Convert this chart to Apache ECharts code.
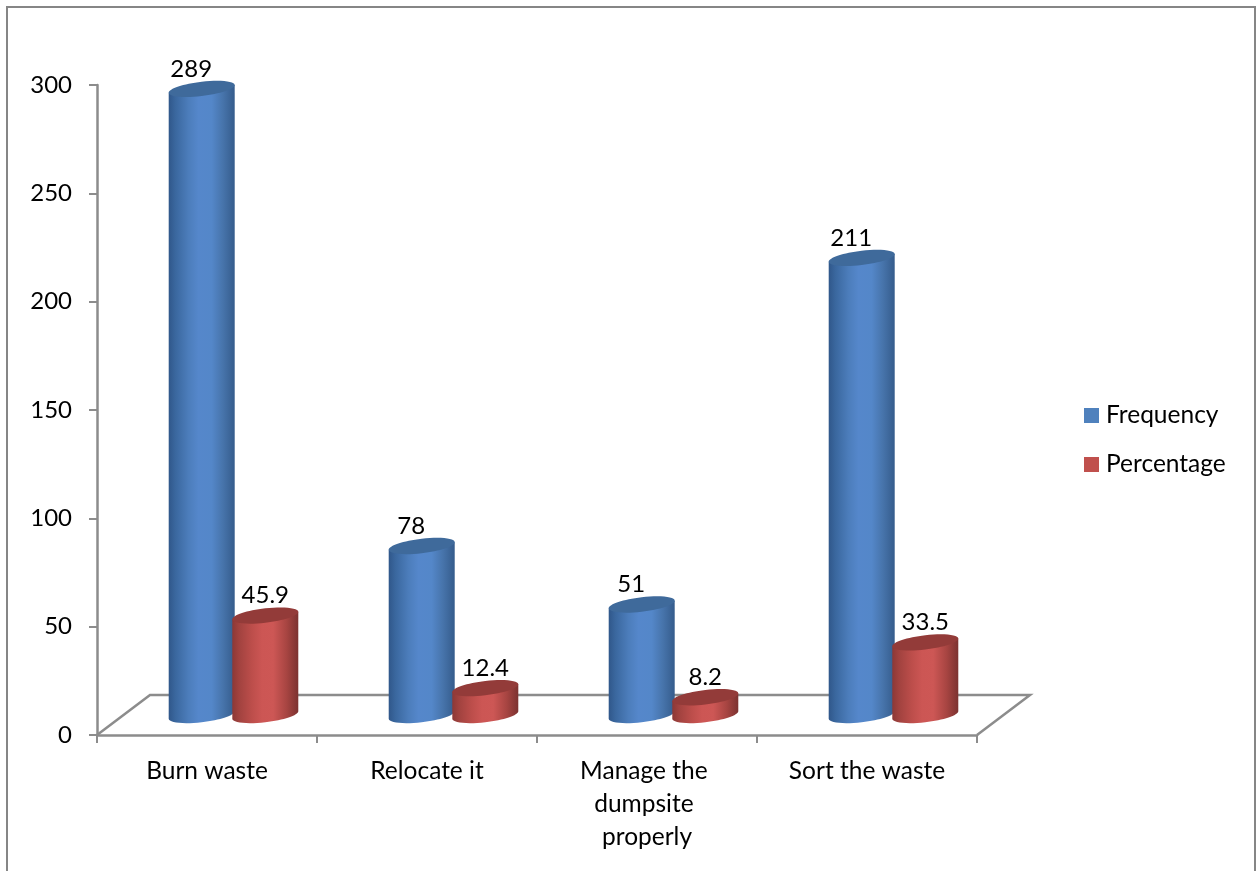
<!DOCTYPE html>
<html>
<head>
<meta charset="utf-8">
<style>html,body{margin:0;padding:0;background:#fff;overflow:hidden}#chart{width:1259px;height:871px}</style>
<script src="https://cdn.jsdelivr.net/npm/echarts@6/dist/echarts.min.js"></script>
</head>
<body>
<div id="chart"></div>
<script>
const categories = ['Burn waste', 'Relocate it', 'Manage the dumpsite properly', 'Sort the waste'];
const frequency = [289, 78, 51, 211];
const percentage = [45.9, 12.4, 8.2, 33.5];
const yMax = 300;
const yStep = 50;

const FONT = 'Lato';
const NUM_SIZE = 24;
const TEXT_SIZE = 24.5;
const AXIS_COLOR = '#8c8c8c';
const FRAME_COLOR = '#868686';
// Oblique projection of the floor: how far the back edge sits from the front edge.
const DEPTH_X = 53;
const DEPTH_Y = 40;
// Sheared ellipse of a cylinder end: half width, half height, and rise across the width.
const RX = 33;
const RY = 7.2;
const TILT = 3.8;
const K = 0.5523;

function gradient(stops) {
  return {
    type: 'linear', x: 0, y: 0, x2: 1, y2: 0,
    colorStops: stops.map(([offset, color]) => ({ offset, color }))
  };
}

const blueBody = gradient([[0, '#30578a'], [0.1, '#3a679e'], [0.3, '#4c7dbb'], [0.45, '#5587cb'], [0.65, '#5487c9'], [0.82, '#4774ab'], [1, '#355c8c']]);
const redBody = gradient([[0, '#8c3836'], [0.1, '#a1423f'], [0.3, '#bd4e4b'], [0.45, '#cc5654'], [0.62, '#cd5755'], [0.82, '#a84542'], [1, '#7c3230']]);

const fmt = (x, y) => `${x} ${y}`;

// Upper half of the end ellipse, left to right, as path commands.
function upperArc(c, y) {
  return `C ${fmt(c - RX, y + TILT - K * RY)} ${fmt(c - K * RX, y - RY + K * TILT)} ${fmt(c, y - RY)} ` +
         `C ${fmt(c + K * RX, y - RY - K * TILT)} ${fmt(c + RX, y - TILT - K * RY)} ${fmt(c + RX, y - TILT)} `;
}
// Lower half of the end ellipse, left to right.
function lowerArcLR(c, y) {
  return `C ${fmt(c - RX, y + TILT + K * RY)} ${fmt(c - K * RX, y + RY + K * TILT)} ${fmt(c, y + RY)} ` +
         `C ${fmt(c + K * RX, y + RY - K * TILT)} ${fmt(c + RX, y - TILT + K * RY)} ${fmt(c + RX, y - TILT)} `;
}
// Lower half of the end ellipse, right to left.
function lowerArcRL(c, y) {
  return `C ${fmt(c + RX, y - TILT + K * RY)} ${fmt(c + K * RX, y + RY - K * TILT)} ${fmt(c, y + RY)} ` +
         `C ${fmt(c - K * RX, y + RY + K * TILT)} ${fmt(c - RX, y + TILT + K * RY)} ${fmt(c - RX, y + TILT)} `;
}

// Cylinder sitting halfway back on the floor, with its top ellipse and value above it.
function cylinder(shift, body, cap, labelShift) {
  return function (params, api) {
    const i = api.value(0);
    const v = api.value(1);
    const step = api.size([1, 0])[0];
    const cx = api.coord([i, 0])[0] + DEPTH_X / 2 + shift * step;
    const yBase = api.coord([i, 0])[1] - DEPTH_Y / 2;
    const yTop = api.coord([i, v])[1] - DEPTH_Y / 2;
    const l = cx - RX;
    const bodyPath =
      `M ${fmt(l, yTop + TILT)} L ${fmt(l, yBase + TILT)} ` +
      lowerArcLR(cx, yBase) +
      `L ${fmt(cx + RX, yTop - TILT)} L ${fmt(l, yTop + TILT)} Z`;
    const capPath =
      `M ${fmt(l, yTop + TILT)} ` + upperArc(cx, yTop) + lowerArcRL(cx, yTop) + 'Z';
    return {
      type: 'group',
      children: [
        { type: 'path', shape: { pathData: bodyPath }, style: { fill: body } },
        { type: 'path', shape: { pathData: capPath }, style: { fill: cap } },
        {
          type: 'text', z2: 5,
          style: {
            text: String(v), x: cx + labelShift, y: yTop - 20,
            align: 'center', verticalAlign: 'middle',
            font: `${NUM_SIZE}px ${FONT}`, fill: '#000'
          }
        }
      ]
    };
  };
}

// Floor parallelogram: the front edge follows the axis, the back edge is offset.
function floor(params, api) {
  const step = api.size([1, 0])[0];
  const [x0, y0] = api.coord([0, 0]);
  const left = x0 - step / 2;
  const right = left + step * categories.length;
  return {
    type: 'polyline',
    shape: {
      points: [
        [left, y0],
        [left + DEPTH_X, y0 - DEPTH_Y],
        [right + DEPTH_X, y0 - DEPTH_Y],
        [right, y0]
      ]
    },
    style: { stroke: AXIS_COLOR, lineWidth: 2.5, fill: 'none' }
  };
}

const chart = echarts.init(document.getElementById('chart'), null, { renderer: 'canvas' });
chart.setOption({
  backgroundColor: '#fff',
  animation: false,
  graphic: [{
    type: 'rect', silent: true, z: -1,
    shape: { x: 7, y: 7, width: 1248, height: 900 },
    style: { fill: 'none', stroke: FRAME_COLOR, lineWidth: 2 }
  }],
  grid: { left: 97, right: 282, top: 85, bottom: 136 },
  xAxis: {
    type: 'category',
    data: categories,
    boundaryGap: true,
    axisLine: { lineStyle: { color: AXIS_COLOR, width: 2.5 } },
    axisTick: { show: true, alignWithLabel: false, length: 8, lineStyle: { color: AXIS_COLOR, width: 2 } },
    axisLabel: {
      color: '#000', fontFamily: FONT, fontSize: TEXT_SIZE, margin: 20, lineHeight: 33,
      interval: 0, width: 170, overflow: 'break'
    }
  },
  yAxis: {
    type: 'value',
    min: 0,
    max: yMax,
    interval: yStep,
    splitLine: { show: false },
    axisLine: { show: true, lineStyle: { color: AXIS_COLOR, width: 2.5 } },
    axisTick: { show: true, length: 8, lineStyle: { color: AXIS_COLOR, width: 2 } },
    axisLabel: { color: '#000', fontFamily: FONT, fontSize: NUM_SIZE, margin: 25, padding: [2, 0, 0, 0] }
  },
  legend: {
    orient: 'vertical',
    left: 1079,
    top: 398,
    icon: 'rect',
    itemWidth: 15,
    itemHeight: 15,
    itemGap: 24,
    data: ['Frequency', 'Percentage'],
    textStyle: { color: '#000', fontFamily: FONT, fontSize: TEXT_SIZE, padding: [0, 0, 0, 2] }
  },
  series: [
    {
      name: 'floor', type: 'custom', silent: true, renderItem: floor,
      data: [[0, 0]], encode: { x: 0, y: 1 }
    },
    {
      name: 'Frequency', type: 'custom', itemStyle: { color: '#4f81bd' },
      renderItem: cylinder(-0.1445, blueBody, '#3f6a9b', -10.5),
      data: frequency.map((v, i) => [i, v]), encode: { x: 0, y: 1 }
    },
    {
      name: 'Percentage', type: 'custom', itemStyle: { color: '#c0504d' },
      renderItem: cylinder(0.1445, redBody, '#933b39', 0),
      data: percentage.map((v, i) => [i, v]), encode: { x: 0, y: 1 }
    }
  ]
});
</script>
</body>
</html>
